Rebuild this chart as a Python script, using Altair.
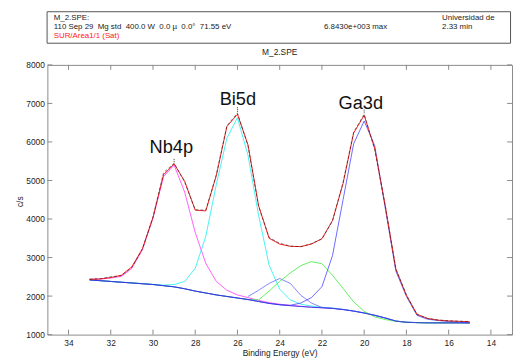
import altair as alt
import pandas as pd

# ---------------- data ----------------
energy = [33.0, 32.5, 32.0, 31.5, 31.0, 30.5, 30.0, 29.5, 29.0, 28.5, 28.0, 27.5, 27.0,
          26.5, 26.0, 25.5, 25.0, 24.5, 24.0, 23.5, 23.0, 22.5, 22.0, 21.5, 21.0, 20.5,
          20.0, 19.5, 19.0, 18.5, 18.0, 17.5, 17.0, 16.5, 16.0, 15.5, 15.0]

background = [2420, 2400, 2380, 2360, 2340, 2320, 2300, 2270, 2240, 2190, 2130, 2080, 2030,
              1990, 1950, 1910, 1860, 1810, 1775, 1750, 1730, 1710, 1695, 1680, 1650, 1610,
              1560, 1500, 1430, 1350, 1320, 1310, 1305, 1305, 1305, 1305, 1300]

measured = [2440, 2450, 2500, 2530, 2740, 3220, 4050, 5200, 5450, 4960, 4240, 4230, 5150,
            6420, 6750, 5900, 4330, 3520, 3370, 3300, 3280, 3360, 3480, 3950, 4950, 6250,
            6720, 5800, 4330, 2710, 2030, 1520, 1420, 1380, 1360, 1345, 1340]

fit_sum = [2430, 2445, 2480, 2540, 2760, 3230, 4040, 5150, 5430, 4980, 4230, 4210, 5130,
           6400, 6720, 5920, 4350, 3500, 3350, 3290, 3285, 3350, 3490, 3960, 4920, 6230,
           6690, 5830, 4340, 2700, 2020, 1530, 1420, 1375, 1355, 1345, 1335]

nb4p = [2440, 2440, 2470, 2510, 2720, 3200, 4020, 5100, 5400, 4700, 3650, 2850, 2380,
        2150, 2030, 1960, 1890, 1830, 1790, 1760, 1735, 1715, 1698, 1682, 1652, 1612,
        1562, 1502, 1432, 1352, 1322, 1312, 1307, 1306, 1306, 1306, 1306]

bi5d = [2420, 2400, 2380, 2360, 2345, 2325, 2305, 2285, 2300, 2380, 2720, 3550, 4900,
        6100, 6630, 5650, 4100, 2800, 2180, 1900, 1790, 1740, 1710, 1690, 1655, 1612,
        1562, 1502, 1432, 1352, 1322, 1312, 1307, 1306, 1306, 1306, 1306]

# small blue component, drawn from 25.5 eV downwards
bi5d_small = [1990, 2150, 2330, 2456, 2330, 2020, 1820, 1705, 1685, 1652, 1612,
              1562, 1502, 1432, 1352, 1322, 1312, 1307, 1306, 1306, 1306, 1306]

green_comp = [2420, 2400, 2380, 2360, 2340, 2320, 2300, 2270, 2240, 2190, 2130, 2080, 2030,
              1990, 1950, 1915, 1900, 2130, 2380, 2600, 2790, 2895, 2840, 2540, 2200, 1850,
              1605, 1460, 1390, 1350, 1320, 1310, 1305, 1305, 1305, 1305, 1305]

ga3d = [2420, 2400, 2380, 2360, 2340, 2320, 2300, 2270, 2240, 2190, 2130, 2080, 2030,
        1990, 1950, 1910, 1860, 1810, 1775, 1760, 1820, 1960, 2244, 3050, 4500, 5950,
        6544, 5900, 4280, 2650, 1990, 1500, 1400, 1365, 1340, 1325, 1310]

x_ticks = [34, 32, 30, 28, 26, 24, 22, 20, 18, 16, 14]
y_ticks = [1000, 2000, 3000, 4000, 5000, 6000, 7000, 8000]

peak_names = ["Nb4p", "Bi5d", "Ga3d"]
peak_label_e = [29.13, 25.98, 20.16]
peak_label_c = [5709, 6971, 6859]
leader_e = [29.0, 26.0, 20.0]
leader_top = [5560, 6900, 6840]
leader_bottom = [5450, 6760, 6730]

NB = "\u00a0"
header_line1 = "M_2.SPE:"
header_line2 = ("110 Sep 29" + NB * 2 + "Mg std" + NB * 2 + "400.0 W" + NB * 2 + "0.0 \u00b5"
                + NB * 2 + "0.0\u00b0" + NB * 2 + "71.55 eV")
header_line3 = "SUR/Area1/1 (Sat)"
header_max = "6.8430e+003 max"
header_org = "Universidad de"
header_time = "2.33 min"
plot_title = "M_2.SPE"

# ---------------- chart ----------------
W, H = 472, 274
FONT = "Liberation Sans"

xscale = alt.Scale(domain=[13, 35], reverse=True, nice=False, zero=False)
yscale = alt.Scale(domain=[1000, 8000], nice=False, zero=False)

x_axis = alt.Axis(values=x_ticks, title="Binding Energy (eV)", ticks=False, format="d",
                  domain=False, grid=False, labelPadding=4, titlePadding=2,
                  labelFontSize=8.5, titleFontSize=8.5, labelColor="#222",
                  titleColor="#222", titleFontWeight="normal", labelFont=FONT,
                  titleFont=FONT, labelOverlap=False)
y_axis = alt.Axis(values=y_ticks, title=None, ticks=False, domain=False, format="d",
                  grid=False, labelPadding=3, labelFontSize=8.5,
                  labelColor="#222", labelFont=FONT, labelOverlap=False)


def line_layer(xs, ys, color, width=1.0, dash=None, opacity=1.0):
    df = pd.DataFrame({"e": xs, "c": ys})
    kw = dict(color=color, strokeWidth=width, opacity=opacity, clip=True)
    if dash:
        kw["strokeDash"] = dash
    return alt.Chart(df).mark_line(**kw).encode(
        x=alt.X("e:Q", scale=xscale, axis=x_axis),
        y=alt.Y("c:Q", scale=yscale, axis=y_axis),
    )


layers = []
layers.append(line_layer(energy, nb4p, "#ff44ff", 1.0, opacity=0.85))
layers.append(line_layer(energy, bi5d, "#33f0f0", 1.0, opacity=0.9))
layers.append(line_layer(energy[15:], bi5d_small, "#6666ff", 1.0, opacity=0.8))
layers.append(line_layer(energy, green_comp, "#44ee44", 1.0, opacity=0.85))
layers.append(line_layer(energy, ga3d, "#5050ff", 1.0, opacity=0.85))
layers.append(line_layer(energy, background, "#3030e0", 1.0, opacity=0.9))
layers.append(line_layer(energy, fit_sum, "#ff2020", 1.0))
layers.append(line_layer(energy, measured, "#202020", 1.0, dash=[3, 2], opacity=0.6))

# ticks pointing inward
xt = pd.DataFrame({"e": x_ticks})
yt = pd.DataFrame({"c": y_ticks})
tick_style = dict(color="#8a8a8a", strokeWidth=1)
layers.append(alt.Chart(xt).mark_rule(**tick_style).encode(
    x=alt.X("e:Q", scale=xscale, axis=x_axis), y=alt.value(H), y2=alt.value(H - 5)))
layers.append(alt.Chart(xt).mark_rule(**tick_style).encode(
    x=alt.X("e:Q", scale=xscale, axis=x_axis), y=alt.value(0), y2=alt.value(5)))
layers.append(alt.Chart(yt).mark_rule(**tick_style).encode(
    y=alt.Y("c:Q", scale=yscale, axis=y_axis), x=alt.value(0), x2=alt.value(5)))
layers.append(alt.Chart(yt).mark_rule(**tick_style).encode(
    y=alt.Y("c:Q", scale=yscale, axis=y_axis), x=alt.value(W), x2=alt.value(W - 5)))

# peak labels and leaders
lab = pd.DataFrame({"name": peak_names, "e": peak_label_e, "c": peak_label_c})
layers.append(alt.Chart(lab).mark_text(font=FONT, fontSize=18.5, baseline="alphabetic",
                                       align="center", color="#111").encode(
    x=alt.X("e:Q", scale=xscale, axis=x_axis), y=alt.Y("c:Q", scale=yscale, axis=y_axis),
    text="name:N"))
lead = pd.DataFrame({"e": leader_e, "c1": leader_top, "c2": leader_bottom})
layers.append(alt.Chart(lead).mark_rule(color="#333", strokeWidth=1, strokeDash=[1, 1]).encode(
    x=alt.X("e:Q", scale=xscale, axis=x_axis), y=alt.Y("c1:Q", scale=yscale, axis=y_axis),
    y2="c2:Q"))

# header box and texts
layers.append(alt.Chart(pd.DataFrame({"a": [0]})).mark_rect(
    fill="white", stroke="#555", strokeWidth=1).encode(
    x=alt.value(-0.3), x2=alt.value(470.5), y=alt.value(-54), y2=alt.value(-22)))


def txt(s, x, y, color="#222", size=8, align="left", angle=None):
    kw = dict(font=FONT, fontSize=size, color=color, align=align, baseline="middle")
    if angle is not None:
        kw["angle"] = angle
    return alt.Chart(pd.DataFrame({"a": [0]})).mark_text(**kw).encode(
        x=alt.value(x), y=alt.value(y), text=alt.value(s))


layers.append(txt(header_line1, 6.5, -48))
layers.append(txt(header_line2, 6.5, -38.8))
layers.append(txt(header_line3, 6.5, -29.3, color="#ff2020"))
layers.append(txt(header_max, 281, -38.8))
layers.append(txt(header_org, 401, -48))
layers.append(txt(header_time, 401, -38.8))
layers.append(txt(plot_title, 236, -13, size=8.5, align="center"))
layers.append(txt("c/s", -28, 139, size=8.5, align="center", angle=270))

chart = alt.layer(*layers).properties(
    width=W, height=H,
    padding={"left": 40, "top": 55, "right": 1, "bottom": 23},
    autosize=alt.AutoSizeParams(type="none"),
    background="white",
).configure_view(stroke="#8a8a8a", strokeWidth=1)

chart.save("out.html", embed_options={"renderer": "svg", "actions": False})
